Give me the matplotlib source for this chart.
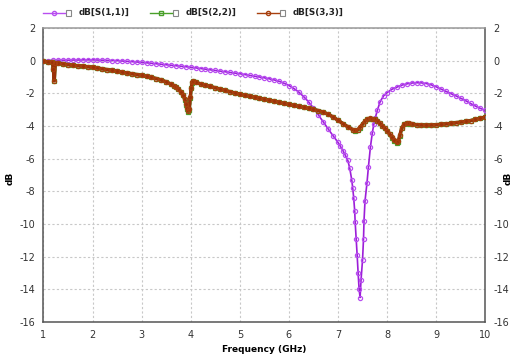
import matplotlib.pyplot as plt
from matplotlib.lines import Line2D
from matplotlib.patches import Rectangle

plt.rcParams["axes.unicode_minus"] = False

# S11 sweep (GHz, dB)
f11 = [1.0, 1.1, 1.2, 1.3, 1.4, 1.5, 1.6, 1.7, 1.8, 1.9, 2.0, 2.1, 2.2, 2.3, 2.4, 2.5,
       2.6, 2.7, 2.8, 2.9, 3.0, 3.1, 3.2, 3.3, 3.4, 3.5, 3.6, 3.7, 3.8, 3.9, 4.0,
       4.1, 4.2, 4.3, 4.4, 4.5, 4.6, 4.7, 4.8, 4.9, 5.0, 5.1, 5.2, 5.3, 5.4, 5.5,
       5.6, 5.7, 5.8, 5.9, 6.0, 6.1, 6.2, 6.3, 6.4, 6.5, 6.6, 6.7, 6.8, 6.9, 7.0,
       7.05, 7.1, 7.15, 7.2, 7.24, 7.28, 7.3, 7.32, 7.34, 7.35, 7.37, 7.39, 7.41,
       7.43, 7.45, 7.47, 7.5, 7.52, 7.53, 7.55, 7.59, 7.62, 7.66, 7.7, 7.73, 7.76,
       7.8, 7.86, 7.93, 8.0, 8.1, 8.2, 8.3, 8.4, 8.5, 8.6, 8.7, 8.8, 8.9, 9.0,
       9.1, 9.2, 9.3, 9.4, 9.5, 9.6, 9.7, 9.8, 9.9, 10.0]
s11 = [0.0, 0.01, 0.02, 0.03, 0.03, 0.03, 0.04, 0.04, 0.05, 0.05, 0.05, 0.04, 0.03, 0.02, 0.01, 0.0,
       -0.02, -0.04, -0.06, -0.08, -0.1, -0.13, -0.16, -0.19, -0.22, -0.25, -0.28, -0.31, -0.34, -0.37, -0.4,
       -0.44, -0.48, -0.52, -0.56, -0.6, -0.64, -0.68, -0.72, -0.76, -0.8, -0.85, -0.9, -0.95, -1.0, -1.05,
       -1.11, -1.18, -1.26, -1.38, -1.52, -1.7, -1.92, -2.2, -2.52, -2.9, -3.32, -3.75, -4.18, -4.6, -5.0,
       -5.25, -5.5, -5.8, -6.1, -6.6, -7.3, -7.8, -8.4, -9.2, -9.9, -10.9, -11.9, -13.0,
       -14.0, -14.5, -13.4, -12.2, -10.9, -9.8, -8.6, -7.5, -6.5, -5.3, -4.4, -3.9, -3.5,
       -3.05, -2.5, -2.15, -1.95, -1.75, -1.62, -1.5, -1.42, -1.37, -1.35, -1.36, -1.4, -1.48, -1.6,
       -1.74, -1.88, -2.02, -2.15, -2.3, -2.45, -2.62, -2.78, -2.92, -3.05]

# S22 / S33 sweep (GHz, dB)
f22 = [1.0, 1.1, 1.18, 1.2, 1.22, 1.24, 1.3, 1.4, 1.5, 1.6, 1.7, 1.8, 1.9, 2.0, 2.1, 2.2,
       2.3, 2.4, 2.5, 2.6, 2.7, 2.8, 2.9, 3.0, 3.1, 3.2, 3.3, 3.4, 3.5, 3.6, 3.65,
       3.7, 3.75, 3.8, 3.84, 3.88, 3.91, 3.93, 3.95, 3.97, 3.99, 4.01, 4.03, 4.05,
       4.1, 4.2, 4.3, 4.4, 4.5, 4.6, 4.7, 4.8, 4.9, 5.0, 5.1, 5.2, 5.3, 5.4, 5.5,
       5.6, 5.7, 5.8, 5.9, 6.0, 6.1, 6.2, 6.3, 6.4, 6.5, 6.6, 6.7, 6.8, 6.9, 7.0,
       7.1, 7.2, 7.3, 7.35, 7.4, 7.45, 7.5, 7.55, 7.6, 7.65, 7.7, 7.75, 7.8, 7.85,
       7.9, 7.95, 8.0, 8.05, 8.1, 8.15, 8.2, 8.23, 8.26, 8.3, 8.35, 8.4, 8.45, 8.5,
       8.6, 8.7, 8.8, 8.9, 9.0, 9.1, 9.2, 9.3, 9.4, 9.5, 9.6, 9.7, 9.8, 9.9, 10.0]
s22 = [-0.05, -0.08, -0.1, -0.5, -1.22, -0.14, -0.16, -0.2, -0.24, -0.28, -0.31, -0.34, -0.37, -0.4, -0.45, -0.5,
       -0.55, -0.6, -0.65, -0.7, -0.75, -0.8, -0.85, -0.9, -0.96, -1.02, -1.1, -1.18, -1.3, -1.44, -1.53,
       -1.62, -1.74, -1.9, -2.1, -2.4, -2.7, -2.95, -3.12, -3.0, -2.3, -1.7, -1.35, -1.27,
       -1.33, -1.42, -1.5, -1.58, -1.66, -1.74, -1.82, -1.9, -1.98, -2.05, -2.12, -2.18, -2.24, -2.3, -2.36,
       -2.42, -2.48, -2.55, -2.62, -2.68, -2.74, -2.8, -2.86, -2.92, -2.98, -3.06, -3.15, -3.28, -3.45, -3.65,
       -3.85, -4.05, -4.22, -4.28, -4.25, -4.1, -3.9, -3.72, -3.6, -3.55, -3.56, -3.6, -3.68, -3.82,
       -4.0, -4.15, -4.3, -4.5, -4.72, -4.92, -5.05, -4.95, -4.6, -4.15, -3.9, -3.84, -3.85, -3.88,
       -3.92, -3.94, -3.95, -3.94, -3.92, -3.9, -3.87, -3.84, -3.8, -3.76, -3.72, -3.67, -3.6, -3.53, -3.45]
f33 = f22
s33 = [-0.05, -0.08, -0.1, -0.5, -1.24, -0.14, -0.16, -0.2, -0.24, -0.28, -0.31, -0.34, -0.37, -0.4, -0.45, -0.5,
       -0.55, -0.6, -0.65, -0.7, -0.75, -0.8, -0.85, -0.9, -0.96, -1.02, -1.1, -1.18, -1.3, -1.44, -1.53,
       -1.62, -1.74, -1.9, -2.08, -2.36, -2.66, -2.9, -3.08, -2.95, -2.25, -1.65, -1.33, -1.26,
       -1.33, -1.42, -1.5, -1.58, -1.66, -1.74, -1.82, -1.9, -1.98, -2.05, -2.12, -2.18, -2.24, -2.3, -2.36,
       -2.42, -2.48, -2.55, -2.62, -2.68, -2.74, -2.8, -2.86, -2.92, -2.98, -3.06, -3.15, -3.28, -3.45, -3.65,
       -3.85, -4.05, -4.22, -4.27, -4.23, -4.07, -3.87, -3.7, -3.58, -3.54, -3.55, -3.6, -3.68, -3.82,
       -3.98, -4.12, -4.28, -4.48, -4.7, -4.88, -5.0, -4.9, -4.55, -4.1, -3.88, -3.83, -3.84, -3.87,
       -3.92, -3.94, -3.95, -3.94, -3.92, -3.9, -3.87, -3.84, -3.8, -3.76, -3.72, -3.67, -3.6, -3.53, -3.45]

xticks = [1, 2, 3, 4, 5, 6, 7, 8, 9, 10]
yticks = [2, 0, -2, -4, -6, -8, -10, -12, -14, -16]

# name, x, y, line colour, marker colour, marker, band width
series = [
    ("dB[S(1,1)]", f11, s11, "#9c1ed8", "#b84ef0", "o", 1.2),
    ("dB[S(2,2)]", f22, s22, "#3d8a1a", "#4aa02a", "s", 2.4),
    ("dB[S(3,3)]", f33, s33, "#9a3208", "#a8400e", "o", 2.4),
]

fig = plt.figure(figsize=(5.17, 3.56), dpi=100)
ax = fig.add_axes([0.0841, 0.0955, 0.8545, 0.8258])

for name, fx, sy, lc, mc, mk, lw in series:
    ax.plot(fx, sy, color=lc, lw=lw, marker=mk, ms=3.0, mfc="none",
            mec=mc, mew=0.9, zorder=3)

ax.set_xlim(1, 10)
ax.set_ylim(-16, 2)
ax.set_xticks(xticks)
ax.set_yticks(yticks)
ax.grid(True, color="#c8c8c8", ls=(0, (2, 2)), lw=0.8)
ax.tick_params(length=0, labelsize=7, colors="#333333", pad=6,
               labelright=True, right=True)
for sp in ax.spines.values():
    sp.set_color("#555555")
    sp.set_linewidth(1.1)
ax.spines["top"].set_color("#999999")

ax.set_xlabel("Frequency (GHz)", fontsize=6.5, fontweight="bold", labelpad=3)
fig.text(0.02, 0.5, "dB", rotation=90, fontsize=6.5, fontweight="bold",
         ha="center", va="center")
fig.text(0.983, 0.5, "dB", rotation=90, fontsize=6.5, fontweight="bold",
         ha="center", va="center")

# legend strip across the top
W, H = 517.0, 356.0
legend_x = [43, 150, 257]
ly = 1 - 12.7 / H
for (name, fx, sy, lc, mc, mk, lw), x0 in zip(series, legend_x):
    fig.add_artist(Line2D([x0 / W, (x0 + 22) / W], [ly, ly], color=mc, lw=1.0,
                          transform=fig.transFigure))
    fig.add_artist(Line2D([(x0 + 11) / W], [ly], color=mc, marker=mk, ms=3.0,
                          mfc="none", mec=mc, transform=fig.transFigure))
    fig.add_artist(Rectangle(((x0 + 23) / W, 1 - 16 / H), 5 / W, 6 / H,
                             fill=False, ec="#888888", lw=0.8,
                             transform=fig.transFigure))
    fig.text((x0 + 36) / W, ly, name, fontsize=6.3, fontweight="bold",
             ha="left", va="center", color="#222222")

plt.savefig("out.png", dpi=100)
